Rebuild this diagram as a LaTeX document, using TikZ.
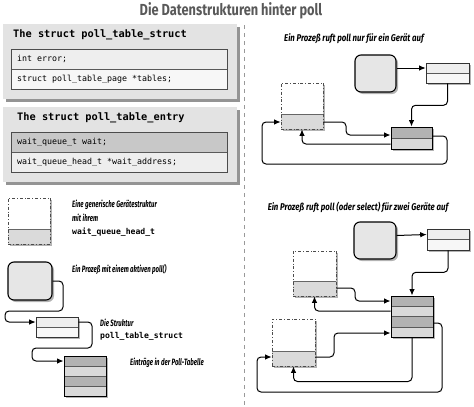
\documentclass[tikz,border=0pt]{standalone}
\usepackage{fontspec}
\setmainfont{Fira Sans}
\newfontfamily\capfont[FakeStretch=0.8]{Fira Sans}
\newfontfamily\notefont[FakeStretch=0.66]{Fira Sans}
\newfontfamily\codefont{DejaVu Sans Mono}
\usetikzlibrary{arrows.meta,shadows}

\definecolor{panelgray}{HTML}{E3E3E3}
\definecolor{rowlight}{HTML}{EEEEEE}
\definecolor{rowwhite}{HTML}{F7F7F7}
\definecolor{rowdark}{HTML}{C8C8C8}
\definecolor{procgray}{HTML}{E6E6E6}
\definecolor{devgray}{HTML}{DADADA}
\definecolor{tabdark}{HTML}{B2B2B2}
\definecolor{tablight}{HTML}{D9D9D9}

\tikzset{
  shade/.style={drop shadow={shadow xshift=2pt,shadow yshift=-2pt,fill=black!50,opacity=.6}},
  rows/.style 2 args={path picture={
      \foreach \c [count=\i from 0] in {#2} {
        \fill[\c] ([yshift=-\i*#1]path picture bounding box.north west)
          rectangle ([yshift=-\i*#1-#1]path picture bounding box.north east);
        \ifnum\i>0
          \draw[black!65,line width=.4pt] ([yshift=-\i*#1]path picture bounding box.north west)
            -- ([yshift=-\i*#1]path picture bounding box.north east);
        \fi
      }}},
  panel/.style={fill=panelgray,minimum width=234pt,minimum height=75pt,
    drop shadow={shadow xshift=2.5pt,shadow yshift=-2.5pt,fill=black!60,opacity=.7}},
  codebox/.style={draw=black!70,line width=.6pt,minimum width=216pt,minimum height=40pt},
  procbox/.style={draw,line width=1.1pt,rounded corners=6pt,fill=procgray,
    minimum width=42pt,minimum height=37pt,shade},
  devbox/.style={draw=black!70,line width=.7pt,dash dot,fill=white,
    minimum width=42pt,minimum height=46pt,shade,
    path picture={
      \fill[devgray] ([yshift=15pt]path picture bounding box.south west)
        rectangle (path picture bounding box.south east);
      \draw[black!60,line width=.4pt,solid] ([yshift=15pt]path picture bounding box.south west)
        -- ([yshift=15pt]path picture bounding box.south east);}},
  strbox/.style={draw=black!80,line width=.6pt,fill=rowwhite,
    minimum width=42pt,minimum height=20pt,shade,rows={10pt}{rowlight,rowwhite}},
  tabbox/.style={draw,line width=1pt,fill=tablight,
    minimum width=42pt,minimum height=40pt,shade},
  link/.style={line width=1pt,rounded corners=4pt,-{Latex[length=6.5pt,width=5.5pt]}},
  txt/.style={anchor=west,inner sep=0pt},
  note/.style={txt,font=\notefont\bfseries\itshape\fontsize{9.2}{10}\selectfont},
  head/.style={font=\capfont\bfseries\itshape\fontsize{9.8}{11}\selectfont,inner sep=0pt},
  code/.style={txt,font=\codefont\fontsize{8.3}{9}\selectfont},
  codetitle/.style={txt,font=\codefont\bfseries\fontsize{10.3}{11}\selectfont},
  codelabel/.style={txt,font=\codefont\bfseries\fontsize{8.1}{9}\selectfont}
}

\begin{document}
\begin{tikzpicture}[x=1pt,y=-1pt]
  \useasboundingbox (0,0) rectangle (474,407);

  % Titel
  \node[inner sep=0pt,text=black!65,font=\capfont\bfseries\fontsize{16}{17}\selectfont]
    (title) at (231,11) {Die Datenstrukturen hinter poll};
  \draw[dashed,black!40,line width=.6pt,dash pattern=on 4pt off 4pt] (244,25) -- (244,407);

  % die beiden Strukturen
  \node[panel] (pnlA) at (120,61.5) {};
  \node[codebox,rows={20pt}{rowlight,rowwhite}] (codeA) at (119,69) {};
  \node[codetitle] (ttlA) at (13,35) {The struct poll\_table\_struct};
  \node[code] at (17,59) {int error;};
  \node[code] at (17,79) {struct poll\_table\_page *tables;};

  \node[panel] (pnlB) at (120,144.5) {};
  \node[codebox,rows={20pt}{rowdark,rowlight}] (codeB) at (119,152) {};
  \node[codetitle] (ttlB) at (17,118) {The struct poll\_table\_entry};
  \node[code] at (17,142) {wait\_queue\_t wait;};
  \node[code] at (17,162) {wait\_queue\_head\_t *wait\_address;};

  % Legende
  \node[devbox] (devL) at (29,221) {};
  \node[note] at (72,205) {Eine generische Gerätestruktur};
  \node[note] at (72,218) {mit ihrem};
  \node[codelabel] at (72,232) {wait\_queue\_head\_t};

  \node[procbox,minimum width=44pt,minimum height=38pt] (procL) at (30,281) {};
  \node[note] at (72,270) {Ein Prozeß mit einem aktiven poll()};

  \node[strbox] (strL) at (57,327) {};
  \node[note] at (100,323) {Die Struktur};
  \node[codelabel] at (100,336) {poll\_table\_struct};

  \node[tabbox,rows={10pt}{tabdark,tablight,tabdark,tablight}] (tabL) at (85,376) {};
  \node[note] at (130,363) {Einträge in der Poll-Tabelle};

  \draw[link] (procL.east) -- (63,281) -- (63,311) -- (5,311) -- (5,322) -- ([yshift=5pt]strL.west);
  \draw[link] ([yshift=5pt]strL.east) -- (92,322) -- (92,348) -- (32,348) -- (32,361) -- ([yshift=15pt]tabL.west);

  % ein Gerät
  \node[head] (headA) at (354,39) {Ein Prozeß ruft poll nur für ein Gerät auf};
  \node[procbox,minimum width=41pt] (procA) at (375.5,73.5) {};
  \node[strbox,minimum width=43pt] (strA) at (447.5,73) {};
  \node[tabbox,minimum width=41pt,minimum height=22pt,rows={11pt}{tabdark,tablight}] (tabA) at (411.5,138) {};
  \node[devbox] (devA) at (302,106) {};

  \draw[link] ([yshift=5.5pt]procA.east) -- ([yshift=5pt]strA.west);
  \draw[link] (strA.south) -- ++(0,22) -| (tabA.north);
  \draw[link] ([yshift=-16pt]devA.east) -- (346,122) -- (346,135) -- ([yshift=3pt]tabA.west);
  \draw[link] ([yshift=-6pt]tabA.west) -| (devA.south);
  \draw[link] ([yshift=2pt]tabA.east) -- (447,136) -- (447,164) -- (262,164) -- (262,122) -- ([yshift=-16pt]devA.west);

  % zwei Geräte
  \node[head] (headB) at (358,207) {Ein Prozeß ruft poll (oder select) für zwei Geräte auf};
  \node[procbox] (procB) at (375,240.5) {};
  \node[strbox,minimum height=21pt] (strB) at (448,239.5) {};
  \node[tabbox,minimum height=41pt,rows={10.25pt}{tabdark,tablight,tabdark,tablight}] (tabB) at (412,316.5) {};
  \node[devbox,minimum width=43pt,minimum height=45pt] (devB) at (314.5,273.5) {};
  \node[devbox,minimum width=43pt,minimum height=47pt] (devC) at (293.5,342.5) {};

  \draw[link] ([yshift=5pt]procB.east) -- ([yshift=5pt]strB.west);
  \draw[link] (strB.south) -- ++(0,22) -| (tabB.north);
  \draw[link] ([yshift=-14.5pt]devB.east) -- (355,288) -- (355,301) -- ([yshift=15.5pt]tabB.west);
  \draw[link] ([yshift=5.5pt]tabB.west) -| (devB.south);
  \draw[link] ([yshift=-14.5pt]devC.east) -- (334,357) -- (334,333) -- ([yshift=-16.5pt]tabB.west);
  \draw[link] (tabB.south) -- ++(0,44) -| (devC.south);
  \draw[link] ([yshift=-6.5pt]tabB.east) -- (442,323) -- (442,392) -- (257,392) -- (257,357) -- ([yshift=-14.5pt]devC.west);
\end{tikzpicture}
\end{document}
